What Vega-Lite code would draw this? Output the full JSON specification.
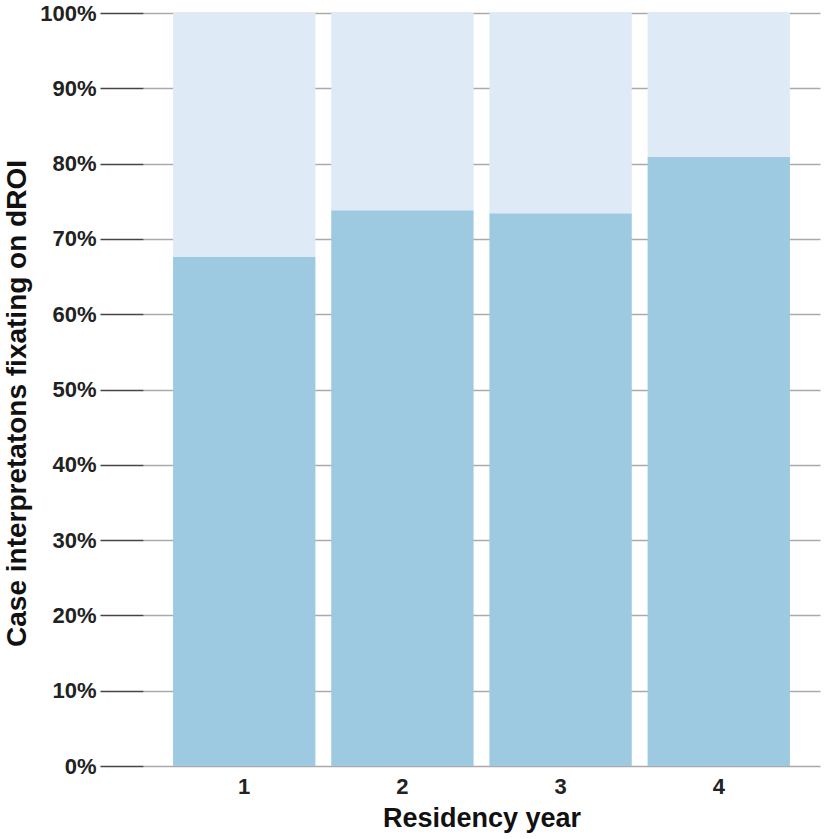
{
  "$schema": "https://vega.github.io/schema/vega-lite/v6.json",
  "width": 677,
  "height": 753,
  "autosize": {"type": "none"},
  "padding": {"left": 143, "top": 13, "right": 5, "bottom": 73},
  "background": "white",
  "config": {
    "view": {"stroke": null},
    "font": "Liberation Sans"
  },
  "data": {
    "values": [
      {"year": "1", "part": "fixating", "share": 0.676},
      {"year": "1", "part": "other", "share": 0.324},
      {"year": "2", "part": "fixating", "share": 0.738},
      {"year": "2", "part": "other", "share": 0.262},
      {"year": "3", "part": "fixating", "share": 0.734},
      {"year": "3", "part": "other", "share": 0.266},
      {"year": "4", "part": "fixating", "share": 0.809},
      {"year": "4", "part": "other", "share": 0.191}
    ]
  },
  "mark": {"type": "bar"},
  "encoding": {
    "x": {
      "field": "year",
      "type": "ordinal",
      "scale": {"paddingInner": 0.1, "paddingOuter": 0.19},
      "axis": {
        "title": "Residency year",
        "labelAngle": 0,
        "ticks": false,
        "domain": false,
        "labelFont": "Liberation Sans",
        "labelFontWeight": "bold",
        "labelFontSize": 22,
        "labelColor": "#222",
        "labelPadding": 10,
        "titleFont": "Liberation Sans",
        "titleFontWeight": "bold",
        "titleFontSize": 27,
        "titleColor": "#111",
        "titlePadding": 8
      }
    },
    "y": {
      "field": "share",
      "type": "quantitative",
      "stack": "zero",
      "scale": {"domain": [0, 1], "nice": false},
      "axis": {
        "title": "Case interpretatons fixating on dROI",
        "format": ".0%",
        "values": [0, 0.1, 0.2, 0.3, 0.4, 0.5, 0.6, 0.7, 0.8, 0.9, 1.0],
        "domain": false,
        "tickSize": 43,
        "tickColor": "#444",
        "tickWidth": 1.5,
        "grid": true,
        "gridColor": "#aaa",
        "gridWidth": 1.5,
        "labelFont": "Liberation Sans",
        "labelFontWeight": "bold",
        "labelFontSize": 22,
        "labelColor": "#222",
        "labelPadding": 4,
        "titleFont": "Liberation Sans",
        "titleFontWeight": "bold",
        "titleFontSize": 28,
        "titleColor": "#111",
        "titlePadding": 8,
        "titleY": 390
      }
    },
    "color": {
      "field": "part",
      "type": "nominal",
      "scale": {"domain": ["fixating", "other"], "range": ["#9ecae1", "#deebf7"]},
      "legend": null
    },
    "order": {"field": "part", "sort": "ascending"}
  }
}
